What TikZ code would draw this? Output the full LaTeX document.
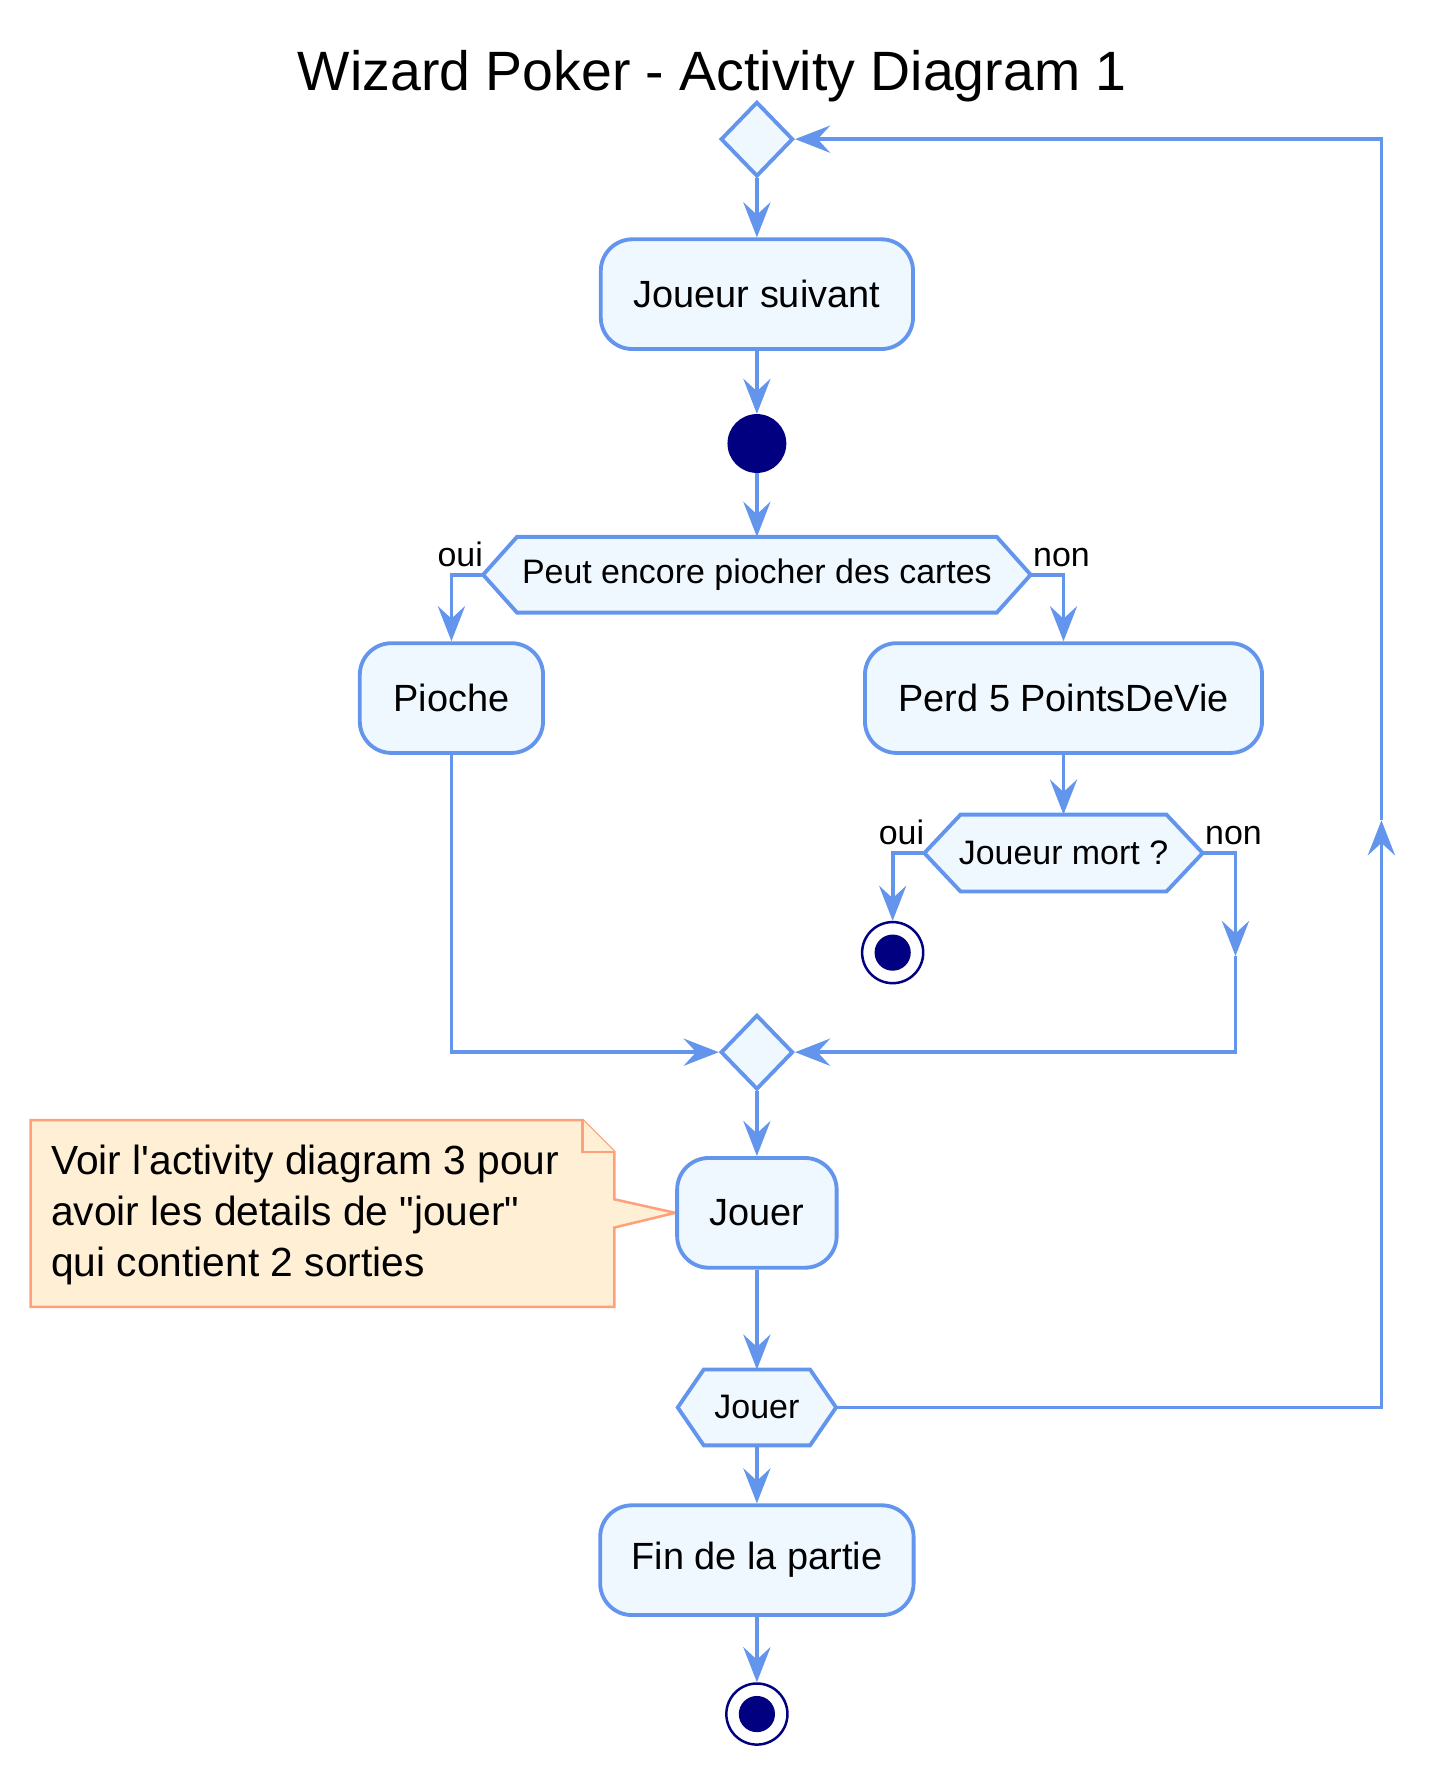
\documentclass[tikz,border=0pt]{standalone}
\usepackage{fontspec}
\setmainfont{Liberation Sans}
\usetikzlibrary{shapes.geometric,arrows.meta,calc,backgrounds}

\definecolor{flowblue}{HTML}{6495ED}
\definecolor{boxfill}{HTML}{F0F8FF}
\definecolor{dotnavy}{HTML}{000080}
\definecolor{noteline}{HTML}{FFA07A}
\definecolor{notefill}{HTML}{FFEFD5}

\tikzset{
  flow/.style={draw=flowblue,line width=3.4pt,-{Stealth[length=31pt,width=24pt,inset=11pt]}},
  act/.style={draw=flowblue,fill=boxfill,line width=3.4pt,rounded corners=28pt,minimum height=97pt,
    inner sep=0pt,font=\fontsize{33.5}{40}\selectfont},
  merge/.style={diamond,draw=flowblue,fill=boxfill,line width=3.4pt,minimum width=64pt,
    minimum height=66pt,inner sep=0pt},
  hexa/.style={inner sep=0pt,outer sep=0pt,minimum height=67pt,font=\fontsize{30}{36}\selectfont},
  hexline/.style={draw=flowblue,fill=boxfill,line width=3.4pt,line join=miter},
  startdot/.style={circle,fill=dotnavy,minimum size=52pt,inner sep=0pt},
  enddot/.style={circle,draw=dotnavy,fill=white,line width=2.2pt,minimum size=54pt,inner sep=0pt,
    path picture={\fill[dotnavy] (path picture bounding box.center) circle (16pt);}},
  lbl/.style={font=\fontsize{30}{36}\selectfont,inner sep=0pt},
  notebox/.style={draw=noteline,fill=notefill,line width=2.2pt,line join=miter},
}

\begin{document}
\begin{tikzpicture}[x=1pt,y=-1pt]
  \useasboundingbox (0,0) rectangle (1263,1568);
  \node[font=\fontsize{49}{59}\selectfont,anchor=base] (titre) at (629.5,80) {Wizard Poker - Activity Diagram 1};

  \node[merge] (d0) at (669,123) {};
  \node[act,minimum width=276pt] (suivant) at (669,260) {Joueur suivant};
  \node[startdot] (debut) at (669,392) {};
  \node[hexa,minimum width=484pt] (peut) at (669,508) {Peut encore piocher des cartes};
  \node[act,minimum width=162pt] (pioche) at (399,617) {Pioche};
  \node[act,minimum width=351pt] (perd) at (940,617) {Perd 5 PointsDeVie};
  \node[hexa,minimum width=246pt,minimum height=68pt] (mort) at (940,754) {Joueur mort ?};
  \node[enddot] (finA) at (789,842) {};
  \node[merge] (d1) at (669,930) {};
  \node[act,minimum width=141pt] (jouer) at (669,1072) {Jouer};
  \node[hexa,minimum width=140pt] (jhex) at (669,1244) {Jouer};
  \node[act,minimum width=277pt] (fin) at (669,1379) {Fin de la partie};
  \node[enddot] (finB) at (669,1515) {};

  \node[lbl,anchor=base east] (ouiA) at (427,501) {oui};
  \node[lbl,anchor=base west] (nonA) at (913,501) {non};
  \node[lbl,anchor=base east] (ouiB) at (817,746) {oui};
  \node[lbl,anchor=base west] (nonB) at (1065,746) {non};

  \node[anchor=west,align=left,inner sep=0pt,font=\fontsize{36}{45}\selectfont] (note) at (45,1074)
    {Voir l\textquotesingle activity diagram 3 pour\\avoir les details de \textquotedbl jouer\textquotedbl\\qui contient 2 sorties};

  \begin{scope}[on background layer]
    \foreach \n/\d in {peut/30,mort/32,jhex/23}
      \draw[hexline] (\n.west) -- ($(\n.north west)+(\d,0)$) -- ($(\n.north east)+(-\d,0)$) -- (\n.east)
        -- ($(\n.south east)+(-\d,0)$) -- ($(\n.south west)+(\d,0)$) -- cycle;
    \draw[notebox] (27,990) -- (515,990) -- (543,1018) -- (543,1060) -- (jouer.west) -- (543,1085)
      -- (543,1155) -- (27,1155) -- cycle;
    \draw[notebox] (515,990) |- (543,1018);
  \end{scope}

  \coordinate (nonmid) at (1092,845);
  \coordinate (loopmid) at (1221,725);

  \draw[flow] (d0.south) -- (suivant.north);
  \draw[flow] (suivant.south) -- (debut.north);
  \draw[flow] (debut.south) -- (peut.north);
  \draw[flow] (peut.west) -| (pioche.north);
  \draw[flow] (peut.east) -| (perd.north);
  \draw[flow] (perd.south) -- (mort.north);
  \draw[flow] (mort.west) -| (finA.north);
  \draw[flow] (mort.east) -| (nonmid);
  \draw[flow] (nonmid) |- (d1.east);
  \draw[flow] (pioche.south) |- (d1.west);
  \draw[flow] (d1.south) -- (jouer.north);
  \draw[flow] (jouer.south) -- (jhex.north);
  \draw[flow] (jhex.east) -| (loopmid);
  \draw[flow] (loopmid) |- (d0.east);
  \draw[flow] (jhex.south) -- (fin.north);
  \draw[flow] (fin.south) -- (finB.north);
\end{tikzpicture}
\end{document}
